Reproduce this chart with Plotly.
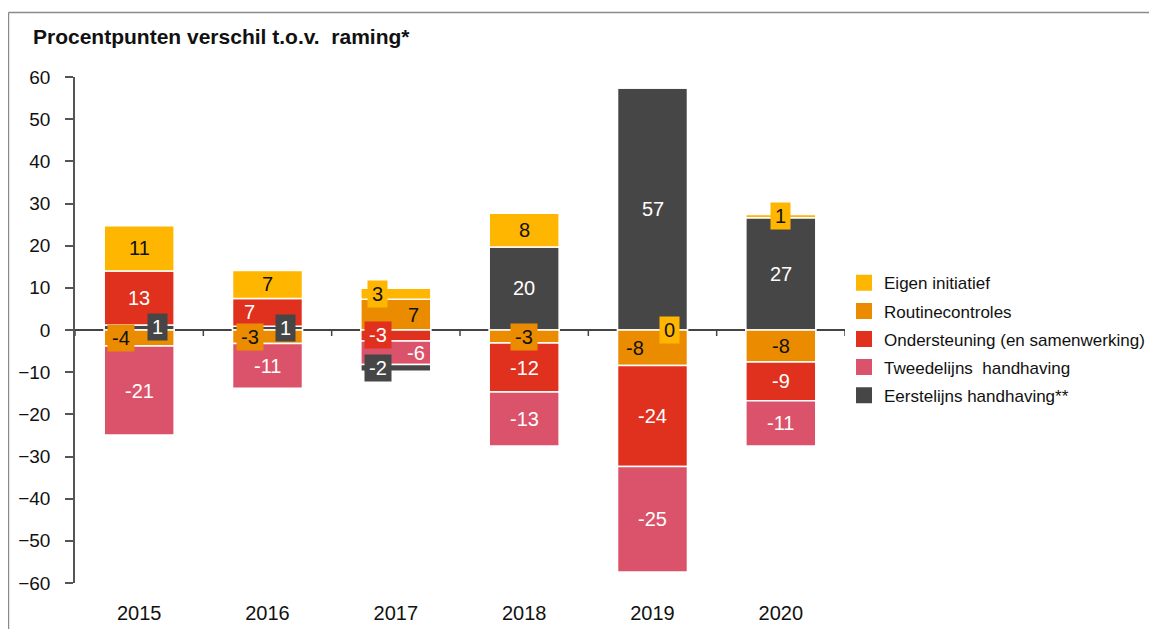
import plotly.graph_objects as go

# ---------------- data ----------------
years = ["2015", "2016", "2017", "2018", "2019", "2020"]
eigen_initiatief = [10.7, 6.6, 2.6, 8.0, 0.0, 0.8]
routinecontroles = [-3.8, -3.2, 7.3, -3.1, -8.4, -7.6]
ondersteuning = [12.8, 6.6, -2.6, -11.6, -24.0, -9.2]
tweedelijns = [-21.1, -10.6, -5.6, -12.8, -25.0, -10.7]
eerstelijns = [1.2, 0.9, -1.6, 19.7, 57.4, 26.6]
y_ticks = [-60, -50, -40, -30, -20, -10, 0, 10, 20, 30, 40, 50, 60]

names = {
    "eigen": "Eigen initiatief",
    "routine": "Routinecontroles",
    "onder": "Ondersteuning (en samenwerking)",
    "tweed": "Tweedelijns  handhaving",
    "eerst": "Eerstelijns handhaving**",
}
values = {
    "eigen": eigen_initiatief,
    "routine": routinecontroles,
    "onder": ondersteuning,
    "tweed": tweedelijns,
    "eerst": eerstelijns,
}
legend_order = ["eigen", "routine", "onder", "tweed", "eerst"]

# ---------------- style ----------------
FONT = "Liberation Sans, Arial, sans-serif"
LABEL_SIZE = 20
colors = {
    "eigen": "#FFB600",
    "routine": "#EB8C00",
    "onder": "#E0301E",
    "tweed": "#DB536A",
    "eerst": "#464646",
}
text_colors = {"eigen": "#111111", "routine": "#111111", "onder": "white",
               "tweed": "white", "eerst": "white"}

# label placement style: (xshift px, boxed, at_axis)
label_style = {
    ("eigen", "2017"): (-18, True, False),
    ("eigen", "2019"): (17, True, True),
    ("eigen", "2020"): (0, True, False),
    ("routine", "2015"): (-18, True, False),
    ("routine", "2016"): (-18, True, False),
    ("routine", "2017"): (18, False, False),
    ("routine", "2018"): (0, True, False),
    ("routine", "2019"): (-18, False, False),
    ("onder", "2016"): (-18, False, False),
    ("onder", "2017"): (-18, True, False),
    ("tweed", "2017"): (20, False, False),
    ("eerst", "2015"): (18, True, False),
    ("eerst", "2016"): (18, True, False),
    ("eerst", "2017"): (-18, True, False),
}

# stacking order (Excel-like): first-line positives at bottom, negatives at the end
trace_order = [("eerst", "pos"), ("routine", None), ("onder", None),
               ("tweed", None), ("eigen", None), ("eerst", "neg")]

fig = go.Figure()
pos_base = {y: 0.0 for y in years}
neg_base = {y: 0.0 for y in years}
annotations = []

for key, part in trace_order:
    vals = values[key]
    if part == "pos":
        yv = [v if v > 0 else None for v in vals]
    elif part == "neg":
        yv = [v if v < 0 else None for v in vals]
    else:
        yv = list(vals)
    fig.add_trace(go.Bar(
        x=years, y=yv, name=names[key],
        marker=dict(color=colors[key], line=dict(color="white", width=1.5)),
        showlegend=False, hoverinfo="skip",
    ))
    for i, (yr, v) in enumerate(zip(years, yv)):
        if v is None:
            continue
        if v >= 0:
            center = pos_base[yr] + v / 2
            pos_base[yr] += v
        else:
            center = neg_base[yr] + v / 2
            neg_base[yr] += v
        xshift, boxed, at_axis = label_style.get((key, yr), (0, False, False))
        if at_axis:
            center = 0
        txt = f"{round(v):d}"
        tw = round((0.556 * sum(c.isdigit() for c in txt) + 0.333 * txt.count("-"))
                   * LABEL_SIZE) + 2
        ann = dict(
            x=i, y=center, xref="x", yref="y", text=txt,
            showarrow=False, xshift=xshift,
            font=dict(family=FONT, size=LABEL_SIZE, color=text_colors[key]),
        )
        if boxed:
            ann.update(bgcolor=colors[key], borderpad=3, width=tw, height=20,
                       align="center", valign="middle")
        annotations.append(ann)

# legend entries (square swatches)
for key in legend_order:
    fig.add_trace(go.Scatter(
        x=[None], y=[None], mode="markers", name=names[key],
        marker=dict(symbol="square", size=16, color=colors[key]),
        legendgroup=key, hoverinfo="skip",
    ))

# title
annotations.append(dict(
    text="<b>Procentpunten verschil t.o.v.  raming*</b>", xref="paper", yref="paper",
    x=-0.0571, y=1.081, xanchor="left", yanchor="middle", showarrow=False,
    font=dict(family=FONT, size=21, color="#111111"),
))

# boundary tick marks hanging below the zero line
shapes = [dict(
    type="line", xref="x", yref="y", ysizemode="pixel", yanchor=0,
    x0=i - 0.5, x1=i - 0.5, y0=0, y1=-6,
    line=dict(color="#444444", width=1.5), layer="above",
) for i in range(len(years) + 1)]
# outer frame (left and top edges visible)
FRAME_X, FRAME_Y = -0.0864, 1.1275
shapes.append(dict(type="line", xref="paper", yref="paper",
                   x0=FRAME_X, x1=FRAME_X, y0=-0.3, y1=FRAME_Y,
                   line=dict(color="#8a8a8a", width=1.5), layer="below"))
shapes.append(dict(type="line", xref="paper", yref="paper",
                   x0=FRAME_X, x1=1.6, y0=FRAME_Y, y1=FRAME_Y,
                   line=dict(color="#8a8a8a", width=1.5), layer="below"))

fig.update_layout(
    template="none",
    barmode="relative",
    bargap=0.455,
    width=1149, height=621,
    margin=dict(l=67, r=312, t=69, b=46, autoexpand=False),
    paper_bgcolor="white", plot_bgcolor="white",
    font=dict(family=FONT, size=19, color="#111111"),
    xaxis=dict(
        type="category", categoryarray=years, categoryorder="array",
        range=[-0.5, len(years) - 0.5], automargin=False,
        showline=False, showgrid=False, zeroline=False,
        ticks="outside", ticklen=12, tickcolor="rgba(0,0,0,0)",
        tickfont=dict(family=FONT, size=20, color="#111111"),
    ),
    yaxis=dict(
        range=[-60, 60], tickvals=y_ticks, showgrid=False, automargin=False,
        zeroline=True, zerolinecolor="#444444", zerolinewidth=2,
        layer="above traces",
        showline=True, linecolor="#555555", linewidth=1.5,
        ticks="outside", ticklen=8, tickwidth=1.5, tickcolor="#555555",
        ticklabelstandoff=11,
        tickfont=dict(family=FONT, size=19, color="#111111"),
    ),
    legend=dict(
        xref="container", x=0.7276, y=0.628, xanchor="left", yanchor="top",
        traceorder="grouped", tracegroupgap=3, itemsizing="trace",
        font=dict(family=FONT, size=17, color="#111111"),
        bgcolor="rgba(0,0,0,0)",
    ),
    annotations=annotations,
    shapes=shapes,
)

fig.write_html("out.html")
